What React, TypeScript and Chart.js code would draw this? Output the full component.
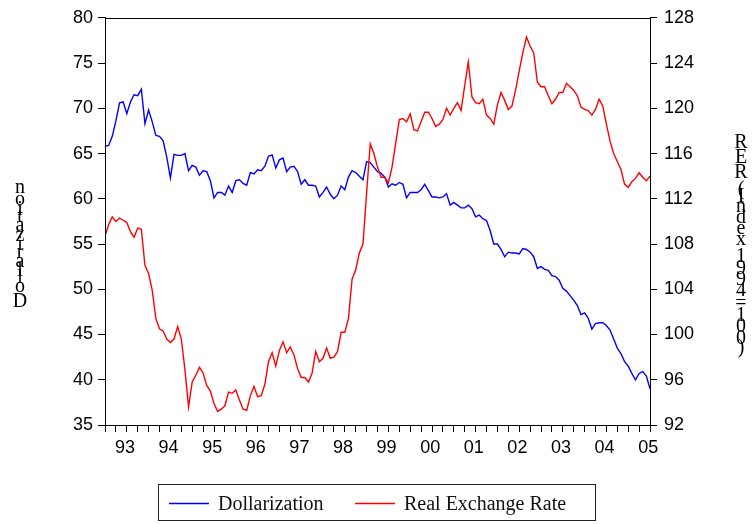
import { useEffect, useRef } from 'react';
import { Chart, registerables } from 'chart.js';

Chart.register(...registerables);

// Monthly observations, 1993M01 .. 2005M07 (index 0..150)
const yearLabels = ['93', '94', '95', '96', '97', '98', '99', '00', '01', '02', '03', '04', '05'];

const dollarization = [
  65.8, 65.9, 66.9, 68.6, 70.6, 70.7, 69.4, 70.7, 71.5, 71.4, 72.1, 68.3,
  69.8, 68.5, 67.0, 66.9, 66.4, 64.6, 62.3, 64.9, 64.8, 64.8, 65.0, 63.1,
  63.7, 63.5, 62.6, 63.1, 63.0, 62.0, 60.1, 60.7, 60.7, 60.4, 61.4, 60.7,
  62.0, 62.1, 61.7, 61.5, 62.9, 62.75, 63.2, 63.1, 63.6, 64.7, 64.85, 63.4,
  64.3, 64.5, 63.0, 63.5, 63.6, 63.0, 61.6, 62.1, 61.5, 61.5, 61.4, 60.2,
  60.7, 61.3, 60.5, 60.0, 60.4, 61.4, 61.0, 62.4, 63.1, 62.9, 62.5, 62.1,
  64.1, 64.0, 63.5, 63.0, 62.8, 62.4, 61.3, 61.65, 61.5, 61.8, 61.6, 60.1,
  60.7, 60.7, 60.7, 61.0, 61.6, 60.9, 60.2, 60.2, 60.1, 60.2, 60.55, 59.3,
  59.6, 59.3, 59.0, 59.0, 59.3, 58.9, 58.0, 58.2, 57.8, 57.6, 56.5, 55.0,
  55.0, 54.4, 53.6, 54.1, 54.0, 54.0, 53.9, 54.5, 54.4, 54.1, 53.6, 52.3,
  52.5, 52.2, 52.1, 51.5, 51.4, 51.0, 50.1, 49.8, 49.3, 48.8, 48.2, 47.2,
  47.4, 46.8, 45.6, 46.2, 46.3, 46.3, 46.0, 45.5, 44.5, 43.5, 42.9, 42.0,
  41.5, 40.7, 40.0, 40.7, 40.9, 40.4, 39.0,
];

const realExchangeRate = [
  108.7, 109.7, 110.4, 110.0, 110.3, 110.1, 109.9, 109.1, 108.6, 109.4, 109.3, 106.1,
  105.4, 103.9, 101.4, 100.5, 100.3, 99.6, 99.3, 99.6, 100.7, 99.6, 96.9, 93.6,
  95.8, 96.4, 97.1, 96.6, 95.5, 95.0, 93.9, 93.2, 93.4, 93.7, 94.9, 94.8,
  95.1, 94.2, 93.4, 93.3, 94.6, 95.4, 94.5, 94.6, 95.6, 97.6, 98.4, 97.2,
  98.6, 99.35, 98.4, 98.9, 98.2, 97.0, 96.2, 96.2, 95.8, 96.6, 98.5, 97.6,
  97.9, 98.8, 97.9, 98.0, 98.5, 100.2, 100.2, 101.4, 104.9, 105.7, 107.2, 108.0,
  112.5, 116.85, 116.0, 114.8, 113.9, 113.9, 113.4, 114.8, 116.9, 119.0, 119.1, 118.8,
  119.5, 118.1, 118.0, 118.8, 119.65, 119.65, 119.1, 118.4, 118.6, 119.0, 120.0, 119.4,
  120.0, 120.5, 119.8, 122.0, 124.1, 121.0, 120.5, 120.4, 120.8, 119.4, 119.1, 118.6,
  120.3, 121.4, 120.7, 119.9, 120.2, 121.6, 123.3, 124.9, 126.3, 125.5, 124.9, 122.3,
  121.9, 121.9, 121.1, 120.4, 120.8, 121.4, 121.4, 122.2, 121.9, 121.6, 121.1, 120.1,
  119.9, 119.8, 119.4, 119.9, 120.8, 120.2, 118.6, 117.1, 116.0, 115.3, 114.6, 113.3,
  113.0, 113.5, 113.8, 114.3, 113.9, 113.6, 114.0,
];

const leftAxisTitle = 'Dollarization';
const rightAxisTitle = 'RER (Index 1994=100)';
const seriesNames = ['Dollarization', 'Real Exchange Rate'];

const LEFT_MIN = 35, LEFT_MAX = 80, LEFT_STEP = 5;
const RIGHT_MIN = 92, RIGHT_MAX = 128, RIGHT_STEP = 4;

const BLUE = '#0000ff';
const RED = '#ff0000';

const isLabelTick = (v: number) => {
  const k = (v - 5.5) / 12;
  return Math.abs(k - Math.round(k)) < 1e-6;
};

const stackedTitles = {
  id: 'stackedTitles',
  afterDraw(chart: any) {
    const ctx = chart.ctx;
    ctx.save();
    ctx.fillStyle = '#000';
    ctx.font = '20px "Liberation Serif"';
    ctx.textAlign = 'center';
    ctx.textBaseline = 'middle';
    const drawStack = (text: string, x: number, firstC: number, lastC: number) => {
      const chars = Array.from(text);
      const w = chars.map((c) => ctx.measureText(c).width);
      const total = w.reduce((a, b) => a + b, 0) - w[0] / 2 - w[w.length - 1] / 2;
      const f = (lastC - firstC) / total;
      let cum = 0;
      chars.forEach((c, k) => {
        const pos = firstC + (cum + w[k] / 2 - w[0] / 2) * f;
        if (c !== ' ') ctx.fillText(c, x, pos);
        cum += w[k];
      });
    };
    drawStack(leftAxisTitle, 20, 302, 188);
    drawStack(rightAxisTitle, 741, 143, 348);
    ctx.restore();
  },
};

const frameAndLegend = {
  id: 'frameAndLegend',
  afterDraw(chart: any) {
    const ctx = chart.ctx;
    const a = chart.chartArea;
    ctx.save();
    ctx.strokeStyle = '#000';
    ctx.lineWidth = 1;
    ctx.strokeRect(Math.round(a.left) + 0.5, Math.round(a.top) + 0.5, Math.round(a.right - a.left), Math.round(a.bottom - a.top));

    // legend box
    ctx.strokeStyle = '#222';
    ctx.strokeRect(158.5, 484.5, 437, 36);
    ctx.font = '20px "Liberation Serif"';
    ctx.textAlign = 'left';
    ctx.textBaseline = 'alphabetic';
    const items = [
      { x: 169, color: BLUE, label: seriesNames[0] },
      { x: 355, color: RED, label: seriesNames[1] },
    ];
    items.forEach((it) => {
      ctx.strokeStyle = it.color;
      ctx.lineWidth = 1.5;
      ctx.beginPath();
      ctx.moveTo(it.x, 503.5);
      ctx.lineTo(it.x + 40, 503.5);
      ctx.stroke();
      ctx.fillStyle = '#111';
      ctx.fillText(it.label, it.x + 49, 510);
    });
    ctx.restore();
  },
};

export default function App() {
  const ref = useRef<HTMLCanvasElement>(null);
  useEffect(() => {
    document.body.style.margin = '0';
    const tickVals: number[] = [];
    for (let v = 0; v <= 150; v += 3) tickVals.push(v);
    yearLabels.forEach((_, k) => tickVals.push(5.5 + 12 * k));
    tickVals.sort((p, q) => p - q);

    const axisFont = { family: '"Liberation Sans", Arial, sans-serif', size: 18 };

    const chart = new Chart(ref.current as HTMLCanvasElement, {
      type: 'line',
      data: {
        datasets: [
          {
            label: seriesNames[1],
            data: realExchangeRate.map((v, i) => ({ x: i, y: v })),
            borderColor: RED,
            borderWidth: 1.4,
            yAxisID: 'y1',
            pointRadius: 0,
            tension: 0,
          },
          {
            label: seriesNames[0],
            data: dollarization.map((v, i) => ({ x: i, y: v })),
            borderColor: BLUE,
            borderWidth: 1.4,
            yAxisID: 'y',
            pointRadius: 0,
            tension: 0,
          },
        ],
      },
      options: {
        responsive: false,
        animation: false,
        layout: { padding: { top: 17, left: 0, right: 0, bottom: 0 } },
        plugins: { legend: { display: false }, tooltip: { enabled: false } },
        scales: {
          x: {
            type: 'linear',
            min: 0,
            max: 150,
            afterBuildTicks: (s: any) => {
              s.ticks = tickVals.map((v) => ({ value: v }));
            },
            afterFit: (s: any) => {
              s.height = 99;
            },
            grid: {
              drawOnChartArea: false,
              tickLength: 7,
              lineWidth: 1,
              color: (c: any) => (c.tick && isLabelTick(c.tick.value) ? 'rgba(0,0,0,0)' : '#000'),
            },
            border: { display: true, color: '#000', width: 1 },
            ticks: {
              autoSkip: false,
              maxRotation: 0,
              minRotation: 0,
              padding: 5,
              color: '#000',
              font: axisFont,
              callback: (v: any) => (isLabelTick(Number(v)) ? yearLabels[Math.round((Number(v) - 5.5) / 12)] : ''),
            },
          },
          y: {
            type: 'linear',
            position: 'left',
            min: LEFT_MIN,
            max: LEFT_MAX,
            afterFit: (s: any) => {
              s.width = 105;
            },
            grid: { drawOnChartArea: false, tickLength: 7, color: '#000' },
            border: { display: true, color: '#000', width: 1 },
            ticks: { stepSize: LEFT_STEP, padding: 5, color: '#000', font: axisFont },
          },
          y1: {
            type: 'linear',
            position: 'right',
            min: RIGHT_MIN,
            max: RIGHT_MAX,
            afterFit: (s: any) => {
              s.width = 106;
            },
            grid: { drawOnChartArea: false, tickLength: 7, color: '#000' },
            border: { display: true, color: '#000', width: 1 },
            ticks: { stepSize: RIGHT_STEP, padding: 7, color: '#000', font: axisFont },
          },
        },
      },
      plugins: [stackedTitles, frameAndLegend],
    });
    return () => chart.destroy();
  }, []);
  return (
    <div style={{ width: 756, height: 524, position: 'relative' }}>
      <canvas ref={ref} width={756} height={524} style={{ display: 'block' }} />
    </div>
  );
}
